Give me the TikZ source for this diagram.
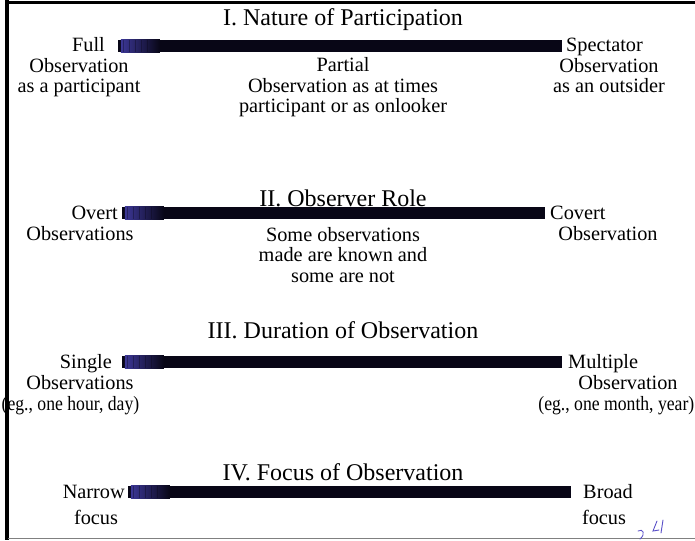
\documentclass[tikz,border=0pt]{standalone}
\usepackage{fontspec}
\setmainfont{Liberation Serif}
\definecolor{barcol}{RGB}{8,6,22}
\definecolor{barblue}{RGB}{60,55,150}
\definecolor{penblue}{RGB}{90,80,200}
\begin{document}
\begin{tikzpicture}[x=1pt,y=-1pt,
  ttl/.style={anchor=base,inner sep=0pt,font=\fontsize{24}{26}\selectfont},
  lbl/.style={inner sep=0pt,font=\fontsize{20.3}{20.5}\selectfont},
  mid/.style={lbl,anchor=base,align=center},
  narrowtxt/.style={xscale=0.87,transform shape},
  barbox/.style={rectangle,inner sep=0pt,minimum height=12pt,fill=barcol,draw=none}]
\useasboundingbox (0,0) rectangle (695,540);
\fill[white] (0,0) rectangle (695,540);
% frame
\draw[line width=3.2pt,black] (7,0) -- (7,540);
\draw[line width=3pt,black] (5.4,2.5) -- (695,2.5);
\draw[line width=1.5pt,gray] (8,538.5) -- (695,538.5);

% ---------- I ----------
\node[ttl] (t1) at (343,26) {I. Nature of Participation};
\node[barbox,minimum width=444pt] (b1) at (340,46) {};
\node[lbl,anchor=base east] (l1) at (105,52) {Full};
\node[lbl,anchor=base west] (r1) at (566,52) {Spectator};
\node[mid] (l1a) at (79,93) {Observation\\as a participant};
\node[mid] (m1) at (343,113) {Partial\\Observation as at times\\participant or as onlooker};
\node[mid] (r1a) at (609,93) {Observation\\as an outsider};

% ---------- II ----------
\node[ttl] (t2) at (343,206) {II. Observer Role};
\node[barbox,minimum width=423pt] (b2) at (333.5,213) {};
\node[lbl,anchor=base east] (l2) at (118,219) {Overt};
\node[lbl,anchor=base west] (r2) at (550,219) {Covert};
\node[mid] (l2a) at (80,240) {Observations};
\node[mid] (m2) at (343,282) {Some observations\\made are known and\\some are not};
\node[mid] (r2a) at (608,240) {Observation};

% ---------- III ----------
\node[ttl] (t3) at (343,338) {III. Duration of Observation};
\node[barbox,minimum width=440pt] (b3) at (342,362) {};
\node[lbl,anchor=base east] (l3) at (112,368) {Single};
\node[lbl,anchor=base west] (r3) at (568,368) {Multiple};
\node[mid] (l3a) at (80,389) {Observations};
\node[lbl,narrowtxt,anchor=base west] (l3b) at (1.5,410) {(eg., one hour, day)};
\node[mid] (r3a) at (628,389) {Observation};
\node[lbl,narrowtxt,anchor=base east] (r3b) at (694.5,410) {(eg., one month, year)};

% ---------- IV ----------
\node[ttl] (t4) at (343,480) {IV. Focus of Observation};
\node[barbox,minimum width=443pt] (b4) at (349.5,492) {};
\node[lbl,anchor=base east] (l4) at (125,498) {Narrow};
\node[lbl,anchor=base west] (r4) at (583,498) {Broad};
\node[mid] (l4a) at (96,524) {focus};
\node[mid] (r4a) at (604,524) {focus};

% bar texture
\foreach \b in {b1,b2,b3,b4}{
  \shade[left color=barblue,right color=barcol] ([xshift=3pt]\b.north west) rectangle ([xshift=42pt]\b.south west);
  \foreach \k in {6,12,...,30}
    \draw[barcol,line width=0.8pt,opacity=0.35] ([xshift=\k pt]\b.north west) -- ([xshift=\k pt]\b.south west);
}

% pen mark
\draw[penblue,line width=0.8pt,line cap=round] (638,531) .. controls (643,528) and (646,534) .. (640,539);
\draw[penblue,line width=0.9pt,line cap=round] (657,521) -- (653,531) -- (659,530);
\draw[penblue,line width=0.9pt,line cap=round] (663,520) -- (661,533);
\end{tikzpicture}
\end{document}
